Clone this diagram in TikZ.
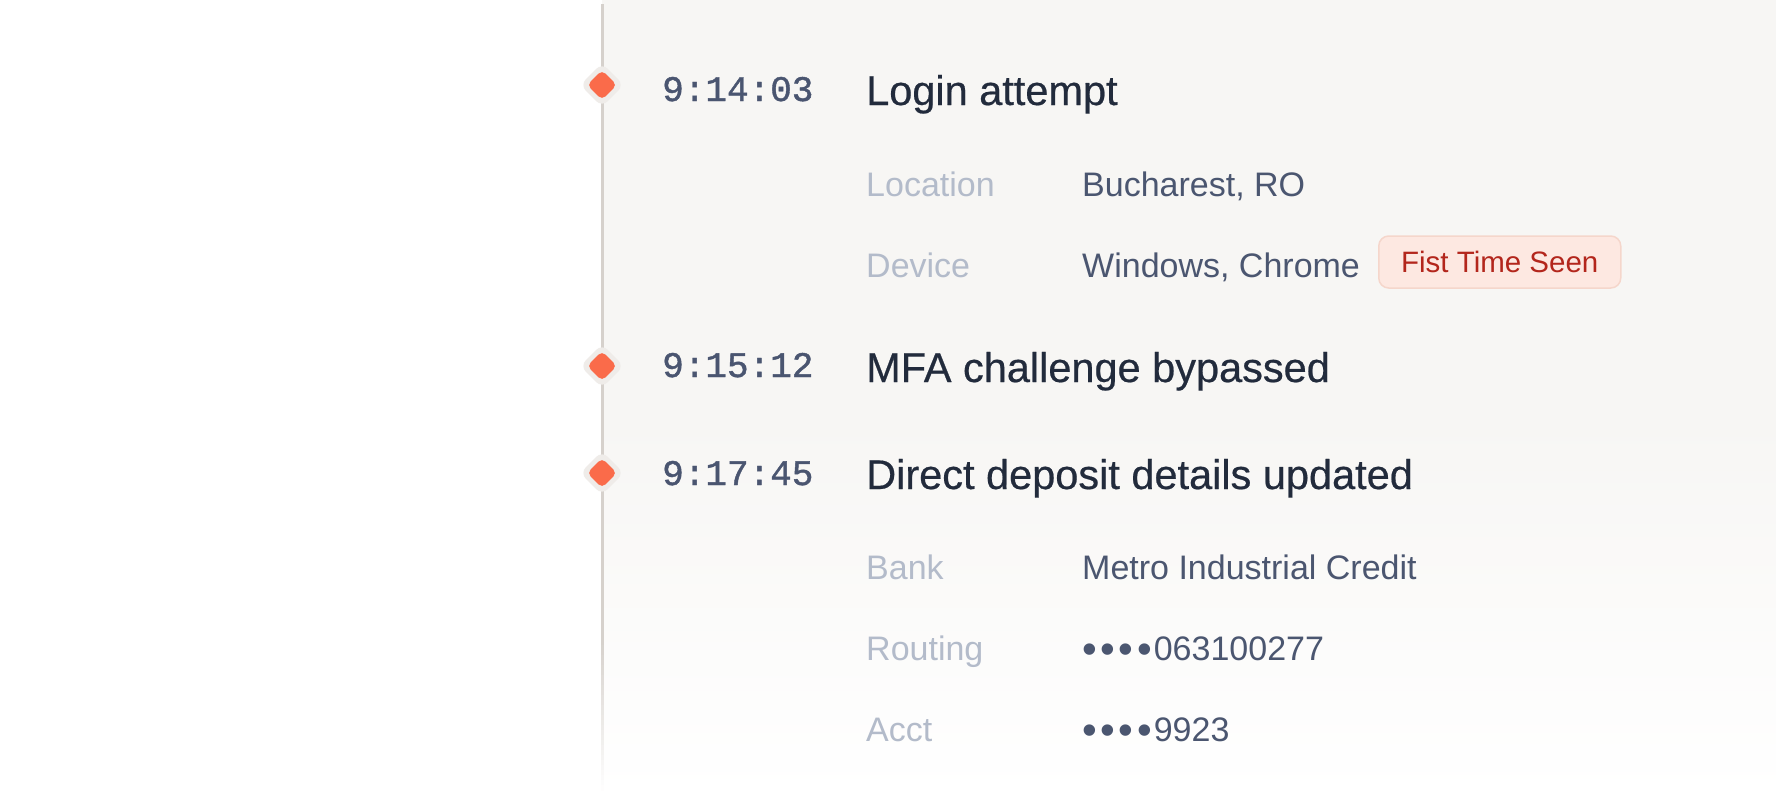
\documentclass[tikz,border=0pt]{standalone}
\usepackage{fontspec}
\setmainfont{Liberation Sans}
\newfontfamily\monof[FakeBold=1.2]{Liberation Mono}
\newfontfamily\titlef[FakeBold=0.5]{Liberation Sans}
\usetikzlibrary{shapes.geometric}
\definecolor{panel}{HTML}{F7F6F4}
\definecolor{railc}{HTML}{D6D1CC}
\definecolor{haloc}{HTML}{EFECE9}
\definecolor{markc}{HTML}{FA6B4A}
\definecolor{timec}{HTML}{4A5570}
\definecolor{titlec}{HTML}{222B3C}
\definecolor{labelc}{HTML}{B3BBCA}
\definecolor{valc}{HTML}{4B5670}
\definecolor{badgefill}{HTML}{FDE8E1}
\definecolor{badgeline}{HTML}{F5D6CB}
\definecolor{badgetext}{HTML}{B3261C}
\newcommand\onedot{\raisebox{-3pt}{\fontsize{42}{40}\selectfont\textbullet}}
\newcommand\maskdots{\onedot\kern3.6pt\onedot\kern3.6pt\onedot\kern3.6pt\onedot\kern2pt}
\tikzset{
  halo/.style={diamond, aspect=1, fill=haloc, minimum width=44, minimum height=44, inner sep=0, rounded corners=8},
  marker/.style={diamond, aspect=1, fill=markc, minimum width=30, minimum height=30, inner sep=0, rounded corners=5},
  timetxt/.style={anchor=base west, inner sep=0, text=timec, font=\fontsize{36}{40}\selectfont\monof},
  titletxt/.style={anchor=base west, inner sep=0, text=titlec, font=\fontsize{41.5}{48}\selectfont\titlef},
  labeltxt/.style={anchor=base west, inner sep=0, text=labelc, font=\fontsize{34}{40}\selectfont},
  valtxt/.style={anchor=base west, inner sep=0, text=valc, font=\fontsize{34}{40}\selectfont},
  badge/.style={anchor=west, fill=badgefill, draw=badgeline, line width=1.5, rounded corners=10,
    text=badgetext, font=\fontsize{29.5}{34}\selectfont, text height=21, text depth=0,
    inner ysep=15.5, minimum width=242},
}
\begin{document}
\begin{tikzpicture}[x=1pt,y=-1pt]
\useasboundingbox (0,0) rectangle (1776,795);
\fill[white] (0,0) rectangle (1776,795);
\fill[panel] (602,0) rectangle (1776,420);
\shade[top color=panel, bottom color=white] (602,419.5) rectangle (1776,795);
% rail
\coordinate (railtop) at (602,4);
\coordinate (railfade) at (602,640);
\coordinate (railend) at (602,790);
\fill[railc] (600.5,4) rectangle (603.5,640.5);
\foreach \i in {0,...,29} {
  \pgfmathsetmacro\pct{100-\i*100/30}
  \fill[railc!\pct!white] (600.5,640+\i*5) rectangle (603.5,645.5+\i*5);
}
% markers
\node[halo] (h1) at (602,85) {};
\node[marker] (d1) at (602,85) {};
\node[halo] (h2) at (602,366) {};
\node[marker] (d2) at (602,366) {};
\node[halo] (h3) at (602,473) {};
\node[marker] (d3) at (602,473) {};
% times
\node[timetxt] (t1) at (662,101) {9:14:03};
\node[timetxt] (t2) at (662,377) {9:15:12};
\node[timetxt] (t3) at (662,485) {9:17:45};
% titles
\node[titletxt] (e1) at (866,105) {Login attempt};
\node[titletxt] (e2) at (866,382) {MFA challenge bypassed};
\node[titletxt] (e3) at (866,489) {Direct deposit details updated};
% details
\node[labeltxt] (l1) at (866,196) {Location};
\node[valtxt] (v1) at (1082,196) {Bucharest, RO};
\node[labeltxt] (l2) at (866,277) {Device};
\node[valtxt] (v2) at (1082,277) {Windows, Chrome};
\node[badge] (b1) at (1378,262) {Fist Time Seen};
\node[labeltxt] (l3) at (866,579) {Bank};
\node[valtxt] (v3) at (1082,579) {Metro Industrial Credit};
\node[labeltxt] (l4) at (866,660) {Routing};
\node[valtxt] (v4) at (1082,660) {\maskdots063100277};
\node[labeltxt] (l5) at (866,741) {Acct};
\node[valtxt] (v5) at (1082,741) {\maskdots9923};
\end{tikzpicture}
\end{document}
